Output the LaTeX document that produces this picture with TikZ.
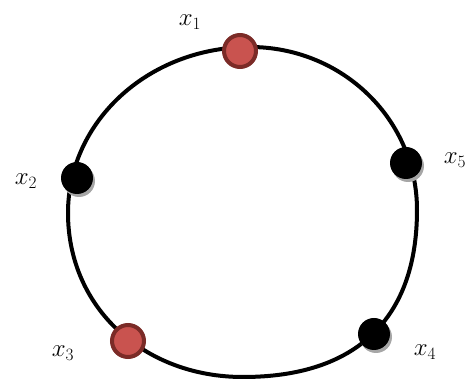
\documentclass[tikz,border=0pt]{standalone}
\usetikzlibrary{shadows}
\definecolor{nodered}{HTML}{C9534F}
\definecolor{nodeborder}{HTML}{7B2B27}
\begin{document}
\begin{tikzpicture}[x=1pt,y=-1pt,
  blacknode/.style={circle,fill=black,inner sep=0pt,minimum size=32pt,
    drop shadow={shadow xshift=2pt,shadow yshift=-3pt,fill=black!35,opacity=1}},
  rednode/.style={circle,fill=nodered,draw=nodeborder,line width=4pt,inner sep=0pt,minimum size=32pt},
  lbl/.style={inner sep=0pt,font=\fontsize{25}{29}\selectfont},
  ring/.style={line width=4pt,black}]
\useasboundingbox (0,0) rectangle (467,382);
\coordinate (T) at (250,47);
\coordinate (R) at (417,210);
\coordinate (B) at (243,377);
\coordinate (L) at (68,213);
\draw[ring] (T) .. controls (342,47) and (417,119) .. (R)
  .. controls (417,319) and (356,377) .. (B)
  .. controls (144,377) and (68,308) .. (L)
  .. controls (68,121) and (149,47) .. (T) -- cycle;
\node[rednode]   (x1) at (240,51) {};
\node[blacknode] (x2) at (77,178) {};
\node[rednode]   (x3) at (128,341) {};
\node[blacknode] (x4) at (374,334) {};
\node[blacknode] (x5) at (406,163) {};
\node[lbl] (l1) at (190,22) {$x_1$};
\node[lbl] (l2) at (26,181) {$x_2$};
\node[lbl] (l3) at (63,353) {$x_3$};
\node[lbl] (l4) at (425,352) {$x_4$};
\node[lbl] (l5) at (455,160) {$x_5$};
\end{tikzpicture}
\end{document}
